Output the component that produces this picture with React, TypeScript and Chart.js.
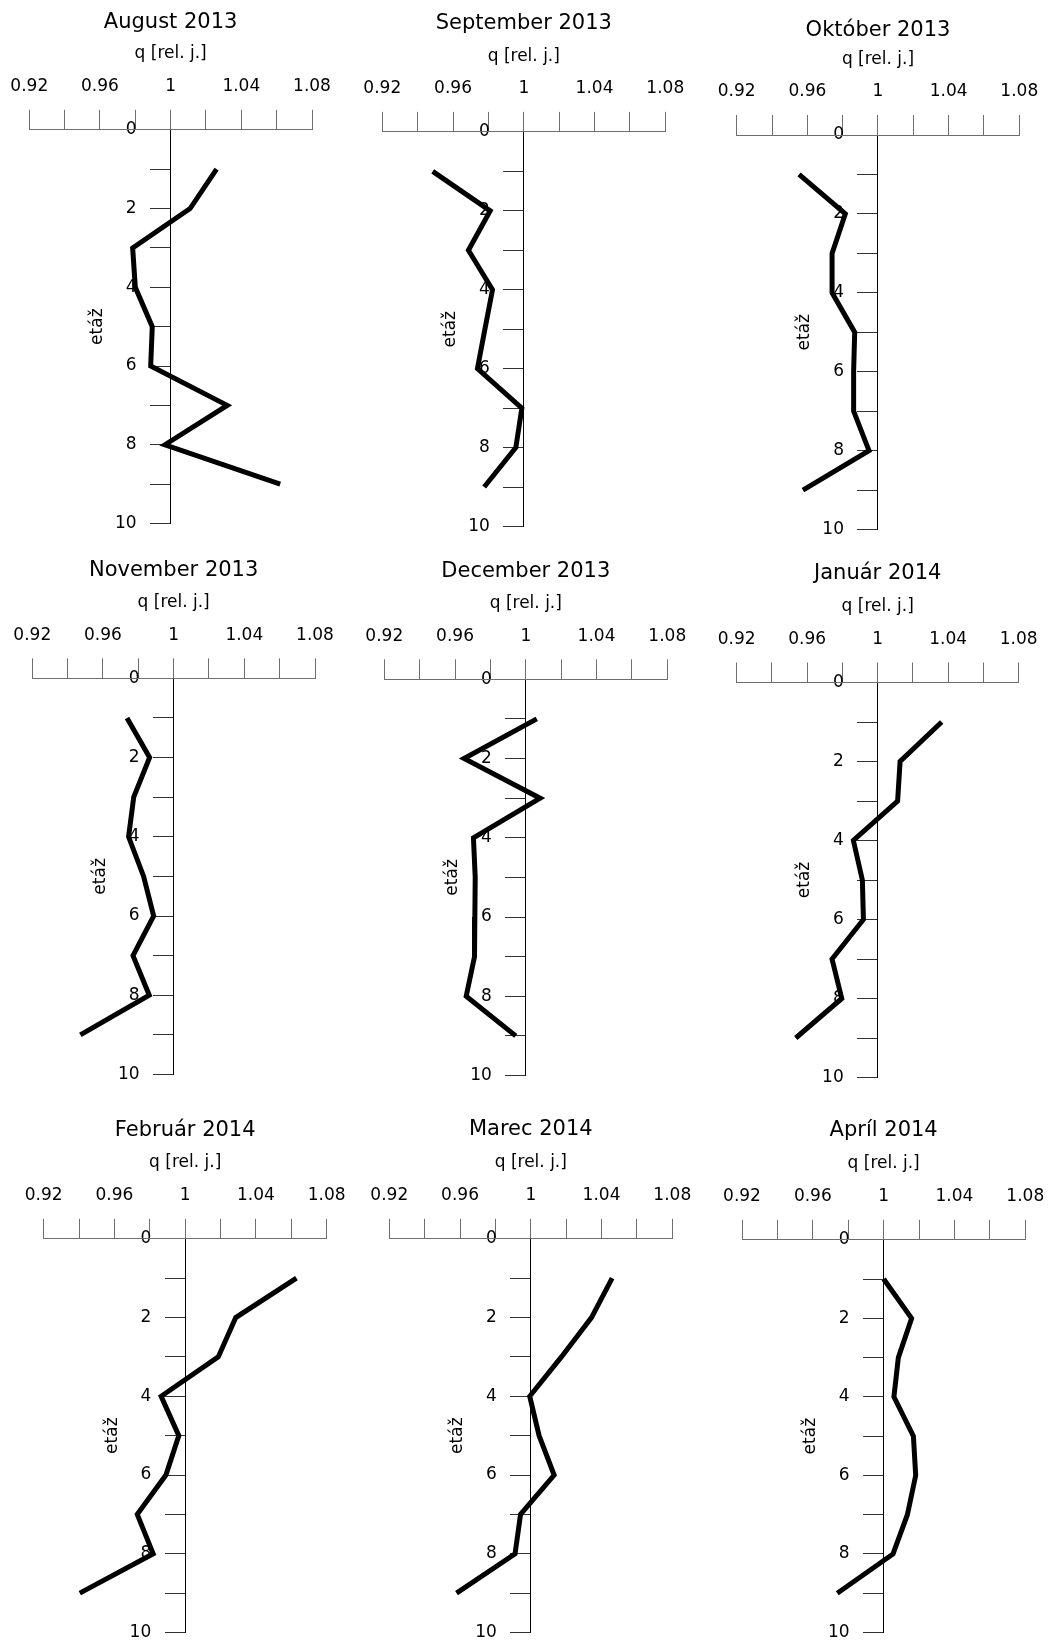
import React, { useEffect, useRef } from 'react';
import { Chart, LinearScale, registerables } from 'chart.js';

Chart.register(...registerables);

// A linear scale whose tick labels sit left of the tick marks when the axis is
// placed at a data value (position: {x: value}).
class CrossLinearScale extends (LinearScale as any) {
  static id = 'crossLinear';
  static defaults = (LinearScale as any).defaults;
  _computeLabelItems(chartArea: any) {
    const items = super._computeLabelItems(chartArea);
    const o = (this as any).options;
    const shift = (o.grid.drawTicks ? o.grid.tickLength : 0) + o.ticks.padding;
    items.forEach((it: any) => {
      it.options.translation[0] -= shift;
    });
    return items;
  }
}
Chart.register(CrossLinearScale as any);

// ---------- data ----------
const panelTitles = [
  'August 2013', 'September 2013', 'Október 2013',
  'November 2013', 'December 2013', 'Január 2014',
  'Február 2014', 'Marec 2014', 'Apríl 2014',
];
const floors = [1, 2, 3, 4, 5, 6, 7, 8, 9];

const qAug2013 = [1.026, 1.011, 0.9785, 0.980, 0.9896, 0.9887, 1.032, 0.9968, 1.062];
const qSep2013 = [0.9485, 0.981, 0.9687, 0.9823, 0.978, 0.9738, 0.9989, 0.9955, 0.9776];
const qOkt2013 = [0.9553, 0.9815, 0.974, 0.974, 0.9868, 0.9862, 0.9862, 0.9949, 0.9575];
const qNov2013 = [0.9736, 0.9864, 0.9774, 0.9745, 0.983, 0.9887, 0.977, 0.9862, 0.9472];
const qDec2013 = [1.0062, 0.9651, 1.0081, 0.9704, 0.9714, 0.9712, 0.971, 0.9663, 0.9943];
const qJan2014 = [1.0363, 1.0127, 1.0113, 0.9862, 0.9913, 0.9919, 0.9741, 0.9796, 0.9535];
const qFeb2014 = [1.0629, 1.0286, 1.0187, 0.9864, 0.9964, 0.9891, 0.9729, 0.9819, 0.9404];
const qMar2014 = [1.046, 1.0343, 1.0173, 0.9994, 1.0047, 1.0132, 0.9942, 0.9911, 0.958];
const qApr2014 = [1.000, 1.0158, 1.0083, 1.0058, 1.0168, 1.0181, 1.0134, 1.0053, 0.9738];

const series = [qAug2013, qSep2013, qOkt2013, qNov2013, qDec2013, qJan2014, qFeb2014, qMar2014, qApr2014];

const xTickValues = [0.92, 0.94, 0.96, 0.98, 1, 1.02, 1.04, 1.06, 1.08];
const xTickLabels = ['0.92', '', '0.96', '', '1', '', '1.04', '', '1.08'];
const yTickValues = [0, 1, 2, 3, 4, 5, 6, 7, 8, 9, 10];
const yTickLabels = ['0', '', '2', '', '4', '', '6', '', '8', '', '10'];
const xAxisTitle = 'q [rel. j.]';
const yAxisTitle = 'etáž';

// ---------- layout (page pixels) ----------
const cells = [
  { left: 0, top: 0, width: 350, height: 540, x0: 29.3, x1: 312, axisY: 129.8, y10: 523.5, titleY: 23 },
  { left: 350, top: 0, width: 350, height: 540, x0: 382.3, x1: 665.3, axisY: 131.9, y10: 526.5, titleY: 23.5 },
  { left: 700, top: 0, width: 351, height: 540, x0: 736.7, x1: 1019.3, axisY: 135, y10: 529.5, titleY: 30.4 },
  { left: 0, top: 540, width: 350, height: 550, x0: 32.3, x1: 315, axisY: 678.3, y10: 1074.5, titleY: 570.5 },
  { left: 350, top: 540, width: 350, height: 550, x0: 384.3, x1: 667.3, axisY: 679.3, y10: 1075.5, titleY: 571.6 },
  { left: 700, top: 540, width: 351, height: 550, x0: 736.7, x1: 1018.7, axisY: 682.5, y10: 1077.5, titleY: 573.7 },
  { left: 0, top: 1090, width: 350, height: 552, x0: 43.7, x1: 326.7, axisY: 1238.8, y10: 1632.5, titleY: 1130.5 },
  { left: 350, top: 1090, width: 350, height: 552, x0: 389.3, x1: 672.3, axisY: 1238.8, y10: 1632.5, titleY: 1129.5 },
  { left: 700, top: 1090, width: 351, height: 552, x0: 742, x1: 1025.3, axisY: 1239.8, y10: 1632.5, titleY: 1130.5 },
];

const FONT = 'DejaVu Sans';
const TITLE_SIZE = 21;
const TICK_SIZE = 17;
const XSCALE_H = 87;

const yTitlePlugin = {
  id: 'yTitleRotated',
  afterDraw(chart: any) {
    const { ctx, scales } = chart;
    const x = scales.x.getPixelForValue(1) - 73;
    const y = (scales.y.top + scales.y.bottom) / 2;
    ctx.save();
    ctx.translate(x, y);
    ctx.rotate(-Math.PI / 2);
    ctx.font = `${TICK_SIZE}px "${FONT}"`;
    ctx.fillStyle = '#000';
    ctx.textAlign = 'center';
    ctx.textBaseline = 'middle';
    ctx.fillText(yAxisTitle, 0, 0);
    ctx.restore();
  },
};

function Panel({ index }: { index: number }) {
  const ref = useRef<HTMLCanvasElement | null>(null);
  const c = cells[index];
  useEffect(() => {
    if (!ref.current) return;
    const titleLH = TITLE_SIZE * 1.2;
    const padTop = c.titleY - c.top - titleLH / 2;
    const titleBottomPad = c.axisY - c.titleY - titleLH / 2 - XSCALE_H;
    const chart = new Chart(ref.current, {
      type: 'scatter',
      data: {
        datasets: [
          {
            data: floors.map((f, i) => ({ x: series[index][i], y: f })),
            showLine: true,
            borderColor: '#000',
            backgroundColor: '#000',
            borderWidth: 5,
            pointRadius: 0,
            pointHoverRadius: 0,
            tension: 0,
            fill: false,
          },
        ],
      },
      options: {
        responsive: false,
        animation: false,
        devicePixelRatio: 1,
        events: [],
        layout: {
          padding: {
            left: c.x0 - c.left,
            right: c.left + c.width - c.x1,
            top: padTop,
            bottom: c.top + c.height - c.y10,
          },
        },
        plugins: {
          legend: { display: false },
          tooltip: { enabled: false },
          title: {
            display: true,
            text: panelTitles[index],
            fullSize: false,
            color: '#000',
            font: { family: FONT, size: TITLE_SIZE, weight: 'normal' },
            padding: { top: 0, bottom: titleBottomPad },
          },
        },
        scales: {
          y: {
            type: 'crossLinear',
            position: { x: 1 } as any,
            reverse: true,
            min: 0,
            max: 10,
            afterBuildTicks: (s: any) => {
              s.ticks = yTickValues.map((v) => ({ value: v }));
            },
            afterFit: (s: any) => {
              s.paddingTop = 0;
              s.paddingBottom = 0;
            },
            grid: {
              drawOnChartArea: false,
              drawTicks: true,
              tickLength: 20,
              color: '#333',
              lineWidth: 1,
            },
            border: { display: true, color: '#000', width: 1 },
            ticks: {
              autoSkip: false,
              padding: 14,
              color: '#000',
              font: { family: FONT, size: TICK_SIZE },
              callback: (_v: any, i: number) => yTickLabels[i],
            },
            title: { display: false },
          },
          x: {
            type: 'linear',
            position: 'top',
            min: 0.92,
            max: 1.08,
            afterBuildTicks: (s: any) => {
              s.ticks = xTickValues.map((v) => ({ value: v }));
            },
            afterFit: (s: any) => {
              s.height = XSCALE_H;
              s.paddingLeft = 0;
              s.paddingRight = 0;
            },
            grid: {
              drawOnChartArea: false,
              drawTicks: true,
              tickLength: 20,
              color: '#6e6e6e',
              lineWidth: 1,
            },
            border: { display: true, color: '#6e6e6e', width: 1 },
            ticks: {
              autoSkip: false,
              maxRotation: 0,
              minRotation: 0,
              padding: 13,
              color: '#000',
              font: { family: FONT, size: TICK_SIZE },
              callback: (_v: any, i: number) => xTickLabels[i],
            },
            title: {
              display: true,
              text: xAxisTitle,
              color: '#000',
              font: { family: FONT, size: TICK_SIZE },
              padding: { top: 1, bottom: 0 },
            },
          },
        },
      },
      plugins: [yTitlePlugin],
    } as any);
    return () => chart.destroy();
  }, [index]);

  return (
    <canvas
      ref={ref}
      width={c.width}
      height={c.height}
      style={{
        position: 'absolute',
        left: c.left,
        top: c.top,
        width: c.width,
        height: c.height,
      }}
    />
  );
}

export default function App() {
  return (
    <div
      style={{
        position: 'absolute',
        left: 0,
        top: 0,
        width: 1051,
        height: 1642,
        background: '#fff',
        overflow: 'hidden',
      }}
    >
      {cells.map((_, i) => (
        <Panel key={i} index={i} />
      ))}
    </div>
  );
}
